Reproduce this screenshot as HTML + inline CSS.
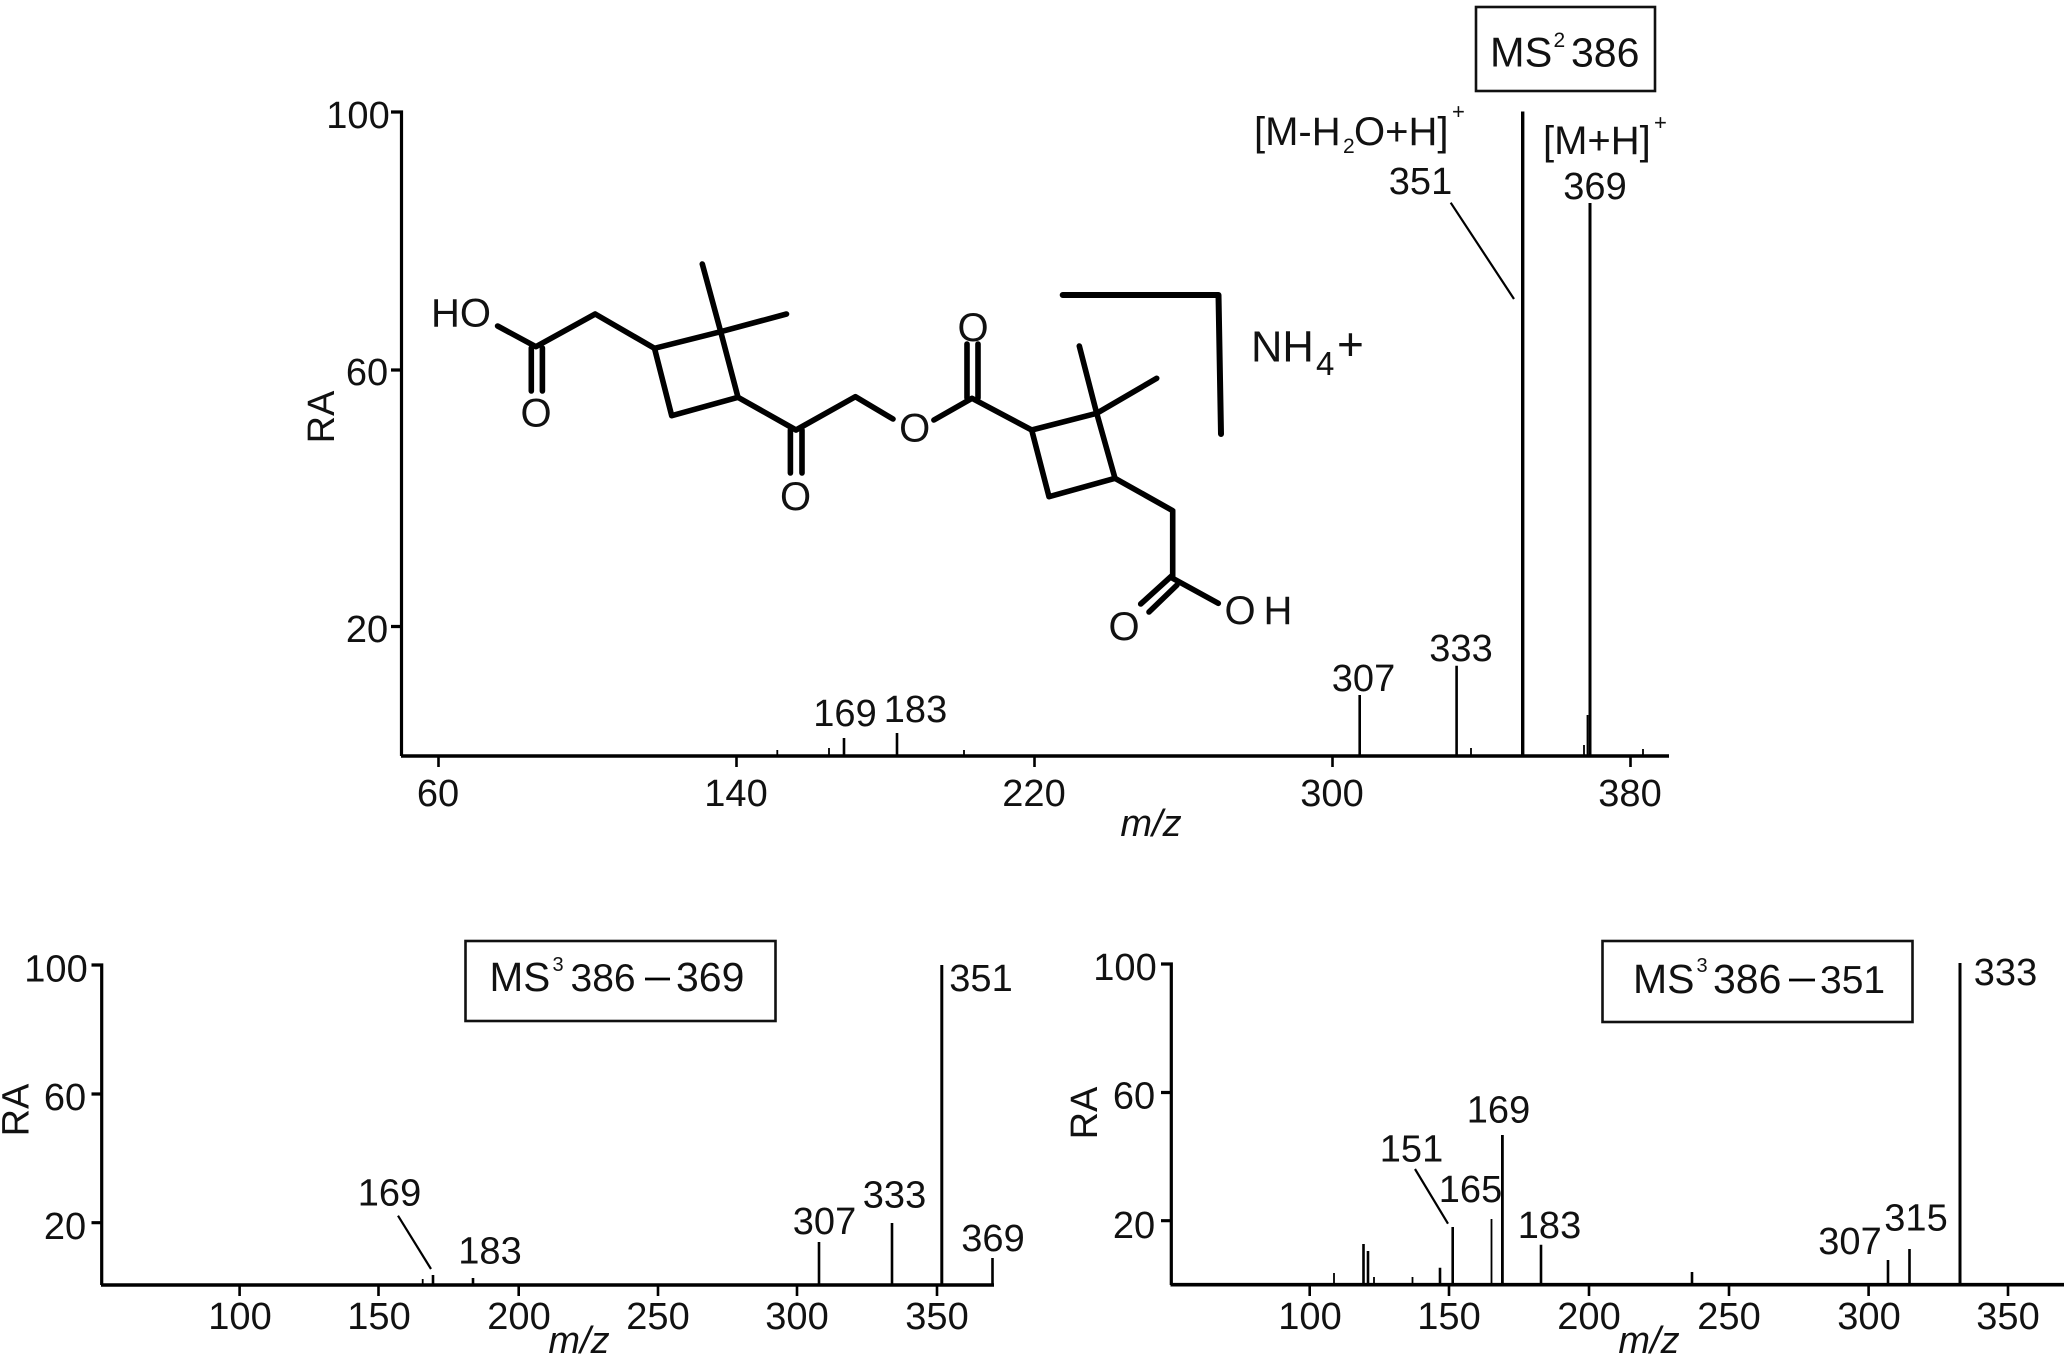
<!DOCTYPE html>
<html>
<head>
<meta charset="utf-8">
<style>
html,body{margin:0;padding:0;background:#fff;}
svg{display:block;}
text{font-family:"Liberation Sans",sans-serif;font-size:38px;fill:#111;text-anchor:middle;}
.st{text-anchor:start;}
.ax{stroke:#000;stroke-width:3.2;fill:none;}
.p{stroke:#000;stroke-width:2.6;fill:none;}
.t{stroke:#000;stroke-width:1.8;fill:none;}
.m{stroke:#000;stroke-width:5.6;fill:none;stroke-linecap:round;stroke-linejoin:round;}
.b{stroke:#111;stroke-width:2.6;fill:#fff;}
.i{font-style:italic;}
</style>
</head>
<body>
<svg xmlns="http://www.w3.org/2000/svg" width="2067" height="1358" viewBox="0 0 2067 1358">
<rect width="2067" height="1358" fill="#fff"/>

<!-- TOP CHART -->
<path class="ax" d="M391 112H401.5V756"/>
<path class="ax" d="M391 370H401.5M391 626.5H401.5"/>
<path class="ax" style="stroke-width:3.6" d="M401 756H1669"/>
<path class="p" d="M438.5 756V767M736.5 756V767M1034.5 756V767M1332.5 756V767M1630.5 756V767"/>
<text x="358" y="128">100</text>
<text x="367" y="385">60</text>
<text x="367" y="642">20</text>
<text transform="translate(334 417) rotate(-90)">RA</text>
<text x="438" y="806">60</text>
<text x="736" y="806">140</text>
<text x="1034" y="806">220</text>
<text x="1332" y="806">300</text>
<text x="1630" y="806">380</text>
<text class="i" x="1151" y="836">m/z</text>

<path class="p" style="stroke-width:3.4" d="M1522.7 111.5V756"/>
<path class="p" style="stroke-width:3" d="M1590 203V756"/>
<path class="p" d="M844 738V756M897 733V756M1359.7 695V756M1456.6 665.7V756"/>
<path class="t" d="M777.3 750V756M829 748V756M964 750V756M1471 748V756M1584 745V756M1587.5 715V756M1643 749V756"/>
<path class="t" style="stroke-width:2.2" d="M1450.7 202.7L1514 299"/>

<text x="845" y="726">169</text>
<text x="915.5" y="722">183</text>
<text x="1363.5" y="691">307</text>
<text x="1461" y="661">333</text>
<text x="1420.5" y="194">351</text>
<text x="1595" y="199">369</text>

<rect class="b" x="1476" y="7" width="179" height="84"/>
<text class="st" x="1490" y="66.5" style="font-size:41.5px">MS</text>
<text class="st" x="1553.5" y="47" style="font-size:21px">2</text>
<text class="st" x="1571" y="66.5" style="font-size:41px">386</text>

<text class="st" x="1254" y="145" style="font-size:40px">[M-H</text>
<text class="st" x="1343" y="153" style="font-size:21px">2</text>
<text class="st" x="1354" y="145" style="font-size:40px">O+H]</text>
<text class="st" x="1452" y="119" style="font-size:22px">+</text>
<text class="st" x="1543" y="154" style="font-size:40px">[M+H]</text>
<text class="st" x="1654" y="130" style="font-size:22px">+</text>

<!-- MOLECULE -->
<path class="m" d="M497.6 326L535.9 346.7L595.2 314L654.5 348.3"/>
<path class="m" d="M654.5 348.3L720.7 331.7L738 397.3L671.7 415.7Z"/>
<path class="m" d="M702.3 264L720.7 331.7L786.5 314"/>
<path class="m" d="M531.3 348V391M542.4 348V391"/>
<path class="m" d="M738 397.3L796 430L855.4 396.7L893 419"/>
<path class="m" d="M790.4 430V473M802 430V473"/>
<path class="m" d="M933.9 420L972 398.3L1031.7 430"/>
<path class="m" d="M1031.7 430L1096.7 413.3L1115 478.3L1049 496.7Z"/>
<path class="m" d="M967 398V344M978 398V344"/>
<path class="m" d="M1079.3 346L1096.7 413.3L1156.7 378.3"/>
<path class="m" d="M1115 478.3L1172.7 510.7V578.3L1218.3 603.3"/>
<path class="m" d="M1172.7 575L1140.7 604M1177 585L1149 612"/>
<path class="m" style="stroke-width:6" d="M1062.7 295H1218.5L1221 434"/>

<text x="461" y="326.7" style="font-size:40px">HO</text>
<text x="536" y="426.7" style="font-size:40px">O</text>
<text x="795.5" y="510" style="font-size:40px">O</text>
<text x="914.7" y="441.7" style="font-size:40px">O</text>
<text x="973" y="341" style="font-size:40px">O</text>
<text x="1124" y="640" style="font-size:40px">O</text>
<text x="1240" y="624" style="font-size:40px">O</text>
<text x="1278" y="624" style="font-size:40px">H</text>
<text class="st" x="1251" y="361.7" style="font-size:43.5px">NH</text>
<text class="st" x="1316" y="375" style="font-size:33px">4</text>
<text class="st" x="1337" y="360" style="font-size:46px">+</text>

<!-- BOTTOM LEFT -->
<path class="ax" d="M91.5 965H101.7V1285"/>
<path class="ax" d="M91.5 1094H101.7M91.5 1222.7H101.7"/>
<path class="ax" style="stroke-width:3.6" d="M101 1285H994"/>
<path class="p" d="M239.6 1285V1296M378.5 1285V1296M518.7 1285V1296M658 1285V1296M797 1285V1296M937 1285V1296"/>
<text x="56" y="981.7">100</text>
<text x="65" y="1110">60</text>
<text x="65" y="1239">20</text>
<text transform="translate(28.5 1110) rotate(-90)">RA</text>
<text x="240" y="1329">100</text>
<text x="379" y="1329">150</text>
<text x="519" y="1329">200</text>
<text x="658" y="1329">250</text>
<text x="797" y="1329">300</text>
<text x="937" y="1329">350</text>
<text class="i" x="579" y="1353">m/z</text>

<path class="p" style="stroke-width:3" d="M941.8 965V1285"/>
<path class="p" d="M819 1242V1285M892 1223V1285M992.5 1258V1285M433 1275V1285M473 1278V1285"/>
<path class="t" d="M422.7 1279V1285"/>
<path class="t" style="stroke-width:2.2" d="M398 1215.7L431 1269"/>
<text x="389.5" y="1205.7">169</text>
<text x="490" y="1263.5">183</text>
<text x="824.5" y="1234">307</text>
<text x="894.5" y="1207.7">333</text>
<text x="993" y="1251">369</text>
<text x="981" y="991">351</text>

<rect class="b" x="465.5" y="941" width="310" height="80"/>
<text class="st" x="489.5" y="991" style="font-size:40.5px">MS</text>
<text class="st" x="552.5" y="971" style="font-size:20px">3</text>
<text class="st" x="570.5" y="991" style="font-size:39px">386</text>
<path class="p" style="stroke-width:2.8" d="M645 979H670"/>
<text class="st" x="676" y="991" style="font-size:41px">369</text>

<!-- BOTTOM RIGHT -->
<path class="ax" d="M1161 964H1171.3V1285"/>
<path class="ax" d="M1161 1092.5H1171.3M1161 1220.7H1171.3"/>
<path class="ax" style="stroke-width:3.6" d="M1170.5 1284.7H2064"/>
<path class="p" d="M1309.7 1285V1296M1449 1285V1296M1589 1285V1296M1729 1285V1296M1868.6 1285V1296M2008 1285V1296"/>
<text x="1125" y="980">100</text>
<text x="1134" y="1108.5">60</text>
<text x="1134" y="1238">20</text>
<text transform="translate(1097 1113) rotate(-90)">RA</text>
<text x="1310" y="1329">100</text>
<text x="1449" y="1329">150</text>
<text x="1589" y="1329">200</text>
<text x="1729" y="1329">250</text>
<text x="1869" y="1329">300</text>
<text x="2008" y="1329">350</text>
<text class="i" x="1649" y="1353">m/z</text>

<path class="p" style="stroke-width:3" d="M1960 963V1285"/>
<path class="p" style="stroke-width:2.8" d="M1502.4 1135V1285"/>
<path class="p" d="M1363.5 1244V1285M1368 1251V1285M1452.7 1227V1285M1541 1244.7V1285M1888 1260V1285M1909.5 1249V1285M1692 1272V1285M1440 1267.7V1285"/>
<path class="t" d="M1334 1273V1285M1374 1277V1285M1412.5 1277V1285M1491.5 1219V1285"/>
<path class="t" style="stroke-width:2.2" d="M1415 1169L1448 1223.7"/>
<text x="1498.5" y="1122.7">169</text>
<text x="1411.5" y="1161.7">151</text>
<text x="1470.5" y="1202">165</text>
<text x="1549.5" y="1238">183</text>
<text x="1850" y="1254">307</text>
<text x="1916" y="1230.7">315</text>
<text x="2005.5" y="985">333</text>

<rect class="b" x="1602.5" y="941" width="310" height="81"/>
<text class="st" x="1633" y="993" style="font-size:41px">MS</text>
<text class="st" x="1696.5" y="972" style="font-size:20px">3</text>
<text class="st" x="1713" y="993" style="font-size:41px">386</text>
<path class="p" style="stroke-width:2.8" d="M1789 980H1815"/>
<text class="st" x="1820" y="993" style="font-size:39px">351</text>
</svg>
</body>
</html>
